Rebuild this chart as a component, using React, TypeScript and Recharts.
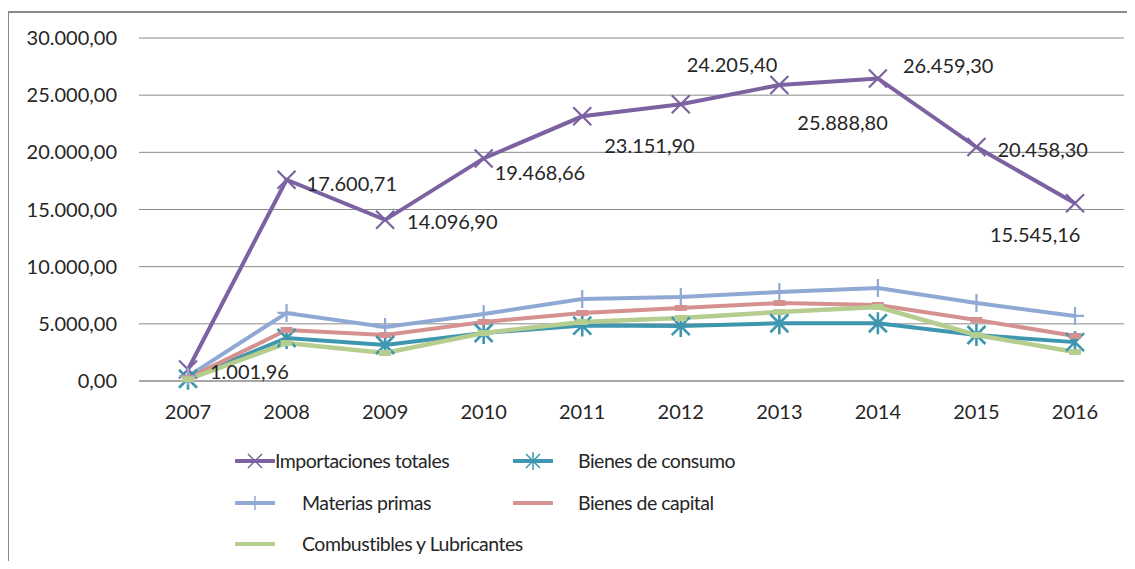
import { CartesianGrid, LabelList, Line, LineChart, XAxis, YAxis } from "recharts";

const years = ["2007", "2008", "2009", "2010", "2011", "2012", "2013", "2014", "2015", "2016"];

const importacionesTotales = [1001.96, 17600.71, 14096.9, 19468.66, 23151.9, 24205.4, 25888.8, 26459.3, 20458.3, 15545.16];
const bienesDeConsumo = [200, 3760, 3150, 4200, 4850, 4800, 5050, 5050, 4020, 3400];
const materiasPrimas = [400, 5950, 4720, 5860, 7170, 7350, 7780, 8130, 6820, 5690];
const bienesDeCapital = [250, 4460, 4020, 5160, 5950, 6390, 6820, 6650, 5340, 3940];
const combustibles = [150, 3320, 2450, 4200, 5160, 5510, 6030, 6470, 4020, 2540];

const yTicks = [0, 5000, 10000, 15000, 20000, 25000, 30000];

// where each total label sits relative to its point: [dx to text start, dy to text middle]
const labelOffsets: [number, number][] = [
  [22, 2],
  [20, 4],
  [22, 2],
  [11, 15],
  [22, 30],
  [6, -39],
  [18, 38],
  [25, -12],
  [21, 3],
  [-85, 32],
];

const FONT = "Lato, 'Open Sans', sans-serif";
const TEXT = "#262626";
const GRID = "#8a8a8a";

const colors = {
  total: "#7c62a1",
  consumo: "#3e97af",
  materias: "#90a9d4",
  capital: "#d5918f",
  combustibles: "#b5ce8f",
};

const data = years.map((year, i) => ({
  year,
  total: importacionesTotales[i],
  consumo: bienesDeConsumo[i],
  materias: materiasPrimas[i],
  capital: bienesDeCapital[i],
  combustibles: combustibles[i],
}));

// 17600.71 -> "17.600,71"
const fmt = (v: number) => {
  const [int, dec] = v.toFixed(2).split(".");
  return int.replace(/\B(?=(\d{3})+(?!\d))/g, ".") + "," + dec;
};

type MarkerKind = "x" | "star" | "plus" | "dash";

function markerPath(kind: MarkerKind, cx: number, cy: number, r = 9) {
  if (kind === "x") return `M${cx - r},${cy - r}L${cx + r},${cy + r}M${cx - r},${cy + r}L${cx + r},${cy - r}`;
  if (kind === "plus") return `M${cx},${cy - r}L${cx},${cy + r}M${cx - r},${cy}L${cx + r},${cy}`;
  if (kind === "star")
    return `M${cx - r},${cy - r}L${cx + r},${cy + r}M${cx - r},${cy + r}L${cx + r},${cy - r}M${cx},${cy - r - 2}L${cx},${cy + r + 2}`;
  return `M${cx - 6},${cy}L${cx + 6},${cy}`;
}

const makeDot = (kind: MarkerKind, color: string) => (props: any) => {
  const { cx, cy, index } = props;
  if (cx == null || cy == null) return <g key={index} />;
  return (
    <path
      key={index}
      d={markerPath(kind, cx, cy)}
      stroke={color}
      strokeWidth={kind === "dash" ? 6 : kind === "star" ? 2.6 : 2.2}
      fill="none"
    />
  );
};

const TotalLabel = (props: any) => {
  const { x, y, value, index } = props;
  const [dx, dy] = labelOffsets[index] ?? [20, 0];
  return (
    <text x={x + dx} y={y + dy + 7} fontSize={20} fontFamily={FONT} fill={TEXT}>
      {fmt(Number(value))}
    </text>
  );
};

const legendItems = [
  { name: "Importaciones totales", color: colors.total, kind: "x" as MarkerKind, left: 228, textLeft: 268, top: 450 },
  { name: "Bienes de consumo", color: colors.consumo, kind: "star" as MarkerKind, left: 506, textLeft: 571, top: 450 },
  { name: "Materias primas", color: colors.materias, kind: "plus" as MarkerKind, left: 228, textLeft: 295, top: 492 },
  { name: "Bienes de capital", color: colors.capital, kind: "dash" as MarkerKind, left: 506, textLeft: 571, top: 492 },
  { name: "Combustibles y Lubricantes", color: colors.combustibles, kind: "dash" as MarkerKind, left: 228, textLeft: 295, top: 533 },
];

function LegendSwatch({ color, kind }: { color: string; kind: MarkerKind }) {
  return (
    <svg width={40} height={20} style={{ display: "block" }}>
      <line x1={1} y1={10} x2={39} y2={10} stroke={color} strokeWidth={4} strokeLinecap="round" />
      {kind !== "dash" && (
        <path d={markerPath(kind, 20, 10, 7)} stroke={color} strokeWidth={1.5} fill="none" />
      )}
    </svg>
  );
}

export default function App() {
  return (
    <div
      style={{
        position: "relative",
        marginLeft: -1,
        marginTop: 3,
        width: 1128,
        height: 550,
        boxSizing: "border-box",
        borderTop: `2px solid ${GRID}`,
        borderLeft: `2px solid ${GRID}`,
        fontFamily: FONT,
      }}
    >
      <div style={{ position: "absolute", left: -2, top: -2, width: 1128, height: 550 }}>
        <LineChart width={1128} height={550} data={data} margin={{ top: 27, right: 11, left: 0, bottom: 150 }}>
          <CartesianGrid vertical={false} stroke={GRID} strokeWidth={1} />
          <XAxis
            dataKey="year"
            height={30}
            padding={{ left: 49, right: 49 }}
            tickLine={false}
            tickSize={0}
            tickMargin={24}
            axisLine={{ stroke: GRID }}
            tick={{ fontSize: 20, fontFamily: FONT, fill: TEXT }}
            interval={0}
          />
          <YAxis
            width={132}
            domain={[0, 30000]}
            ticks={yTicks}
            tickFormatter={(v) => fmt(Number(v))}
            tickLine={false}
            tickSize={0}
            tickMargin={22}
            axisLine={false}
            tick={{ fontSize: 20, fontFamily: FONT, fill: TEXT }}
          />
          <Line
            dataKey="total"
            stroke={colors.total}
            strokeWidth={4}
            dot={makeDot("x", colors.total)}
            activeDot={false}
            isAnimationActive={false}
          >
            <LabelList dataKey="total" content={TotalLabel} />
          </Line>
          <Line
            dataKey="consumo"
            stroke={colors.consumo}
            strokeWidth={4}
            dot={makeDot("star", colors.consumo)}
            activeDot={false}
            isAnimationActive={false}
          />
          <Line
            dataKey="materias"
            stroke={colors.materias}
            strokeWidth={4}
            dot={makeDot("plus", colors.materias)}
            activeDot={false}
            isAnimationActive={false}
          />
          <Line
            dataKey="capital"
            stroke={colors.capital}
            strokeWidth={4}
            dot={makeDot("dash", colors.capital)}
            activeDot={false}
            isAnimationActive={false}
          />
          <Line
            dataKey="combustibles"
            stroke={colors.combustibles}
            strokeWidth={4.5}
            dot={makeDot("dash", colors.combustibles)}
            activeDot={false}
            isAnimationActive={false}
          />
        </LineChart>
        {legendItems.map((item) => (
          <div key={item.name}>
            <div style={{ position: "absolute", left: item.left, top: item.top - 10 }}>
              <LegendSwatch color={item.color} kind={item.kind} />
            </div>
            <div
              style={{
                position: "absolute",
                left: item.textLeft,
                top: item.top - 14,
                fontSize: 19.5,
                letterSpacing: -0.5,
                lineHeight: "28px",
                color: TEXT,
                whiteSpace: "nowrap",
              }}
            >
              {item.name}
            </div>
          </div>
        ))}
      </div>
    </div>
  );
}
